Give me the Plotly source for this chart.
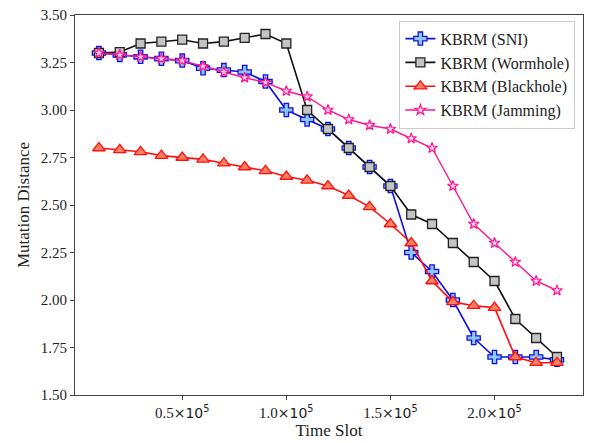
import plotly.graph_objects as go

time_slots = [10000 * i for i in range(1, 24)]
sni = [3.30, 3.29, 3.28, 3.27, 3.26, 3.22, 3.21, 3.20, 3.15, 3.00, 2.95, 2.90,
       2.80, 2.70, 2.60, 2.25, 2.15, 2.00, 1.80, 1.70, 1.70, 1.70, 1.685]
wormhole = [3.30, 3.305, 3.35, 3.36, 3.37, 3.35, 3.36, 3.38, 3.40, 3.35, 3.00, 2.90,
            2.80, 2.70, 2.60, 2.45, 2.40, 2.30, 2.20, 2.10, 1.90, 1.80, 1.70]
blackhole = [2.80, 2.79, 2.78, 2.76, 2.75, 2.74, 2.72, 2.70, 2.68, 2.65, 2.63, 2.60,
             2.55, 2.49, 2.40, 2.30, 2.10, 1.99, 1.97, 1.96, 1.70, 1.67, 1.67]
jamming = [3.30, 3.29, 3.28, 3.27, 3.26, 3.23, 3.20, 3.17, 3.145, 3.10, 3.07, 3.00,
           2.95, 2.92, 2.90, 2.85, 2.80, 2.60, 2.40, 2.30, 2.20, 2.10, 2.05]

x_tickvals = [50000, 100000, 150000, 200000]
x_tick_mantissas = ["0.5", "1.0", "1.5", "2.0"]
y_tickvals = [1.50, 1.75, 2.00, 2.25, 2.50, 2.75, 3.00, 3.25, 3.50]

SERIF = "Liberation Serif, Times New Roman, serif"
x_ticktext = [m + '<span style="font-family:DejaVu Sans;font-size:14px">×10<sup>5</sup></span>'
              for m in x_tick_mantissas]

fig = go.Figure()
fig.add_trace(go.Scatter(x=time_slots, y=sni, name="KBRM (SNI)", mode="lines+markers",
                         line=dict(color="#1010E0", width=1.6),
                         marker=dict(symbol="cross", size=11, color="#8EC8F8",
                                     line=dict(color="#1010E0", width=1.3))))
fig.add_trace(go.Scatter(x=time_slots, y=wormhole, name="KBRM (Wormhole)", mode="lines+markers",
                         line=dict(color="#111111", width=1.6),
                         marker=dict(symbol="square", size=9, color="#C4C4C4",
                                     line=dict(color="#222222", width=1.3))))
fig.add_trace(go.Scatter(x=time_slots, y=blackhole, name="KBRM (Blackhole)", mode="lines+markers",
                         line=dict(color="#FF1010", width=1.6),
                         marker=dict(symbol="triangle-up", size=11, color="#FF8060",
                                     line=dict(color="#FF1010", width=1.3))))
fig.add_trace(go.Scatter(x=time_slots, y=jamming, name="KBRM (Jamming)", mode="lines+markers",
                         line=dict(color="#FF1493", width=1.4),
                         marker=dict(symbol="star", size=8, color="#FFD0E8",
                                     line=dict(color="#FF1493", width=1.2))))

axis_common = dict(showline=True, linecolor="#444444", linewidth=1, mirror=True,
                   showgrid=False, zeroline=False, ticks="outside", ticklen=4,
                   tickcolor="#444444", tickfont=dict(family=SERIF, size=15, color="#222222"))

fig.update_layout(
    width=591, height=443,
    margin=dict(l=75, r=7, t=15, b=45),
    paper_bgcolor="white", plot_bgcolor="white",
    font=dict(family=SERIF, size=15, color="#222222"),
    xaxis=dict(range=[-1500, 242500], tickvals=x_tickvals, ticktext=x_ticktext,
               title=dict(text="Time Slot", font=dict(family=SERIF, size=17), standoff=3), **axis_common),
    yaxis=dict(range=[1.5, 3.5], tickvals=y_tickvals, tickformat=".2f",
               title=dict(text="Mutation Distance", font=dict(family=SERIF, size=17), standoff=6), **axis_common),
    legend=dict(x=0.985, y=0.985, xanchor="right", yanchor="top",
                bgcolor="rgba(255,255,255,0.85)", bordercolor="#CCCCCC", borderwidth=1,
                font=dict(family=SERIF, size=16), tracegroupgap=0),
    showlegend=True,
)

fig.write_html("out.html")
